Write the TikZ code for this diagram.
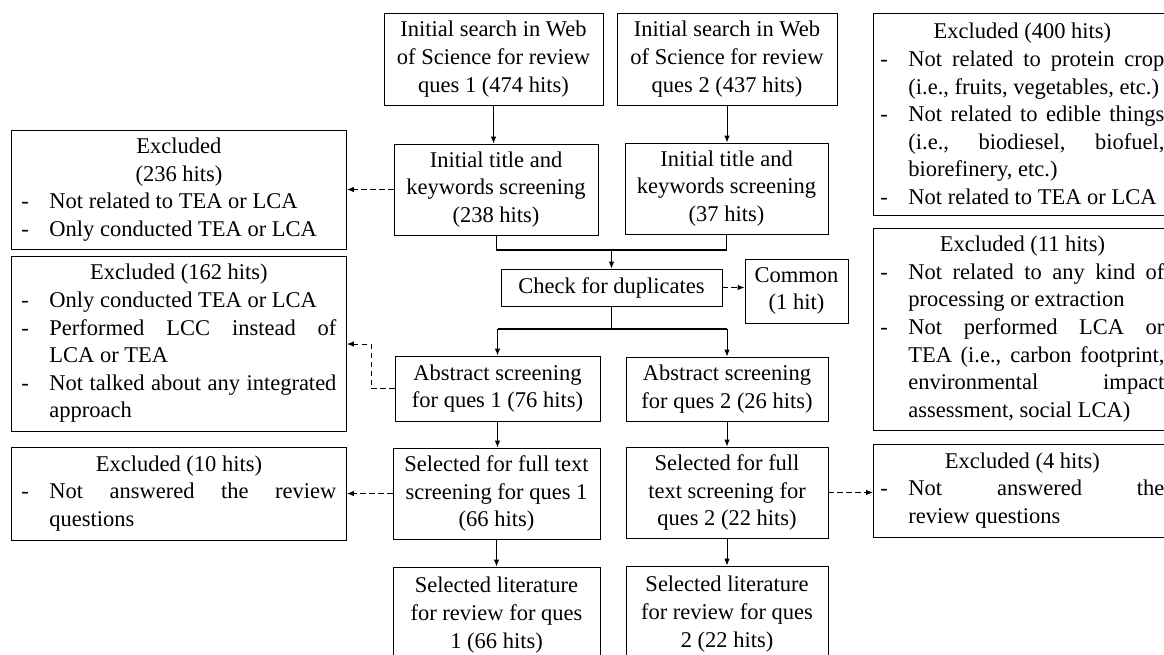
\documentclass[tikz,border=0pt]{standalone}
\usepackage{fontspec}
\setmainfont{Liberation Serif}
\usetikzlibrary{arrows.meta}
\hyphenpenalty=10000
\exhyphenpenalty=10000
\newcommand\exitem[1]{\par\noindent\hangindent=28pt\hangafter=1\makebox[28pt][l]{-}#1\par}
\newcommand\exhead[2]{\noindent\makebox[#1][c]{#2}\par}
\begin{document}
\begin{tikzpicture}[x=1pt,y=-1pt,
  every node/.style={font=\fontsize{22.5}{27.6}\selectfont, text=black},
  flowbox/.style={draw=black, line width=0.9pt, inner sep=0pt, align=center},
  exbox/.style={draw=black, line width=0.9pt, inner ysep=0pt, anchor=west, align=justify},
  arr/.style={-{Latex[length=7pt,width=5.5pt]}, line width=0.9pt},
  darr/.style={arr, dash pattern=on 5.5pt off 3.5pt},
  plain/.style={line width=0.9pt},
  merge/.style={line width=2pt}]
\useasboundingbox (0,0) rectangle (1164,654);
\clip (0,0) rectangle (1164,654);

% main column
\node[flowbox, minimum width=219pt, minimum height=92pt] (a1) at (493.5,59) {Initial search in Web\\of Science for review\\ques 1 (474 hits)};
\node[flowbox, minimum width=220pt, minimum height=92pt] (a2) at (727,59) {Initial search in Web\\of Science for review\\ques 2 (437 hits)};
\node[flowbox, minimum width=204pt, minimum height=91pt] (b1) at (496,189.5) {Initial title and\\keywords screening\\(238 hits)};
\node[flowbox, minimum width=203pt, minimum height=91pt] (b2) at (726.5,188.5) {Initial title and\\keywords screening\\(37 hits)};
\node[flowbox, minimum width=221pt, minimum height=37pt] (chk) at (611.5,287.5) {Check for duplicates};
\node[flowbox, minimum width=103pt, minimum height=64pt] (com) at (796.5,291) {Common\\(1 hit)};
\node[flowbox, minimum width=205pt, minimum height=65pt] (ab1) at (497.5,388.5) {Abstract screening\\for ques 1 (76 hits)};
\node[flowbox, minimum width=202pt, minimum height=64pt] (ab2) at (727,389) {Abstract screening\\for ques 2 (26 hits)};
\node[flowbox, minimum width=207pt, minimum height=91pt] (s1) at (496.5,493.5) {Selected for full text\\screening for ques 1\\(66 hits)};
\node[flowbox, minimum width=202pt, minimum height=91pt] (s2) at (727,492.5) {Selected for full\\text screening for\\ques 2 (22 hits)};
\node[flowbox, minimum width=207pt, minimum height=96pt] (f1) at (496.5,615) {Selected literature\\for review for ques\\1 (66 hits)};
\node[flowbox, minimum width=202pt, minimum height=96pt] (f2) at (727,614) {Selected literature\\for review for ques\\2 (22 hits)};

% left excluded boxes
\node[exbox, text width=315pt, inner xsep=10pt, minimum height=119pt] (l1) at (11,189.5) {\exhead{315pt}{Excluded}\exhead{315pt}{(236 hits)}\exitem{Not related to TEA or LCA}\exitem{Only conducted TEA or LCA}};
\node[exbox, text width=315pt, inner xsep=10pt, minimum height=175pt] (l2) at (11,343.5) {\exhead{315pt}{Excluded (162 hits)}\exitem{Only conducted TEA or LCA}\exitem{Performed LCC instead of\linebreak LCA or TEA}\exitem{Not talked about any integrated\linebreak approach}};
\node[exbox, text width=315pt, inner xsep=10pt, minimum height=93pt] (l3) at (11,493.5) {\exhead{315pt}{Excluded (10 hits)}\exitem{Not answered the review\linebreak questions}};

% right excluded boxes
\node[exbox, text width=284pt, inner xsep=7pt, minimum height=202pt] (r1) at (873,114) {\exhead{284pt}{Excluded (400 hits)}\exitem{Not related to protein crop\linebreak (i.e., fruits, vegetables, etc.)}\exitem{Not related to edible things\linebreak (i.e., biodiesel, biofuel,\linebreak biorefinery, etc.)}\exitem{Not related to TEA or LCA}};
\node[exbox, text width=284pt, inner xsep=7pt, minimum height=202pt] (r2) at (873,329) {\exhead{284pt}{Excluded (11 hits)}\exitem{Not related to any kind of\linebreak processing or extraction}\exitem{Not performed LCA or\linebreak TEA (i.e., carbon footprint,\linebreak environmental impact\linebreak assessment, social LCA)}};
\node[exbox, text width=284pt, inner xsep=7pt, minimum height=93pt] (r3) at (873,490.5) {\exhead{284pt}{Excluded (4 hits)}\exitem{Not answered the\linebreak review questions}};

% connectors
\draw[arr] (a1.south) -- (a1.south |- b1.north);
\draw[arr] (a2.south) -- (a2.south |- b2.north);
\coordinate (j1) at (611.5,250);
\draw[plain] (b1.south) -- (b1.south |- j1);
\draw[plain] (b2.south) -- (b2.south |- j1);
\draw[merge] (b1.south |- j1) -- (b2.south |- j1);
\draw[arr] (j1) -- (chk.north);
\draw[darr] (chk.east) -- (chk.east -| com.west);
\coordinate (j2) at (611.5,329);
\draw[plain] (chk.south) -- (j2);
\draw[merge] (ab1.north |- j2) -- (ab2.north |- j2);
\draw[arr] (ab1.north |- j2) -- (ab1.north);
\draw[arr] (ab2.north |- j2) -- (ab2.north);
\draw[darr] (b1.west) -- (b1.west -| l1.east);
\coordinate (k) at (371,344);
\draw[darr] (ab1.west) -| (k) -- (k -| l2.east);
\draw[darr] (s1.west) -- (s1.west -| l3.east);
\draw[darr] (s2.east) -- (s2.east -| r3.west);
\draw[arr] (ab1.south) -- (ab1.south |- s1.north);
\draw[arr] (ab2.south) -- (ab2.south |- s2.north);
\draw[arr] (s1.south) -- (s1.south |- f1.north);
\draw[arr] (s2.south) -- (s2.south |- f2.north);
\end{tikzpicture}
\end{document}
